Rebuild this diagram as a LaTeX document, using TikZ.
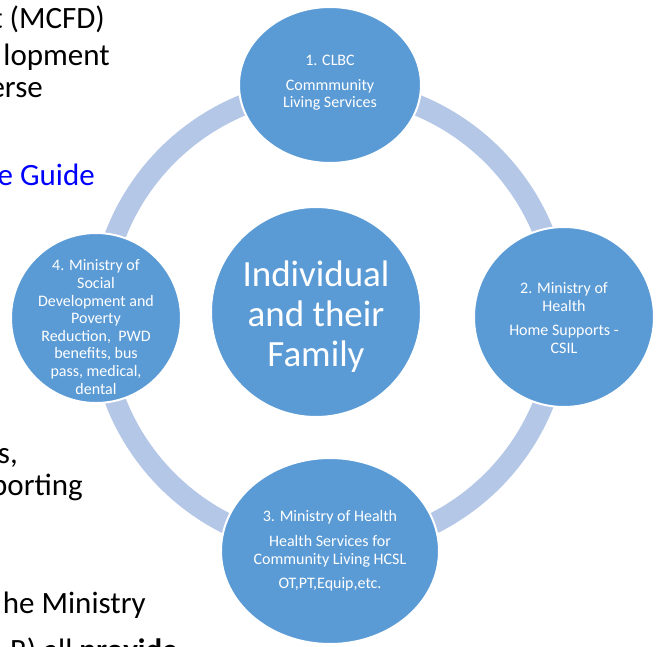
\documentclass[tikz,border=0pt]{standalone}
\usepackage{fontspec}
\setmainfont{Carlito}
\usetikzlibrary{shapes.geometric}
\definecolor{bubbleblue}{HTML}{5B9BD5}
\definecolor{ringblue}{HTML}{B4C7E7}
\definecolor{linkblue}{HTML}{0000FF}

\tikzset{
  bubble/.style={fill=bubbleblue, draw=white, line width=2pt, inner sep=0pt},
  bubbletext/.style={text=white, align=center, inner sep=0pt, font=\fontsize{16}{17.6}\selectfont},
  slidetext/.style={anchor=base east, inner sep=0pt, font=\fontsize{31}{36}\selectfont},
}

\begin{document}
\begin{tikzpicture}[x=1pt, y=-1pt]
    \useasboundingbox (0,0) rectangle (662,646);
    \clip (0,0) rectangle (662,646);

    % slide text cut off at the left edge
    \node[slidetext] (line1) at (105,28) {t (MCFD)};
    \node[slidetext] (line2) at (110,65) {lopment};
    \node[slidetext] (line3) at (43,97) {erse};
    \node[slidetext, text=linkblue] (line4) at (95,185) {e Guide};
    \node[slidetext] (line5) at (18,463) {s,};
    \node[slidetext] (line6) at (83,495) {porting};
    \node[slidetext] (line7) at (146,613) {he Ministry};
    \node[slidetext] (line8) at (178,660) {R) all \textbf{provide}};

    % the ring behind the outer bubbles
    \coordinate (hub) at (330,318);
    \pgfmathsetmacro{\R}{230}  % ring radius, units of points
    \draw[ringblue, line width=21pt] (hub) circle[radius=\R pt];

    % centre
    \node[bubble, circle, minimum size=210pt] (family) at (316,312) {};
    \node[bubbletext, font=\fontsize{37}{40}\selectfont] (family-txt) at (316,317)
        {Individual\\and their\\Family};

    % outer bubbles, clockwise from the top
    \node[bubble, ellipse, minimum width=182pt, minimum height=156pt] (clbc) at (330,85) {};
    \node[bubbletext] (clbc-txt) at (330,83)
        {1. CLBC\\[7pt]Commmunity\\Living Services};

    \node[bubble, circle, minimum size=180pt] (health) at (564,317) {};
    \node[bubbletext] (health-txt) at (564,318)
        {2. Ministry of\\Health\\[7pt]Home Supports -\\CSIL};

    \node[bubble, ellipse, minimum width=218pt, minimum height=186pt] (hcsl) at (330,551) {};
    \node[bubbletext] (hcsl-txt) at (330,551)
        {3. Ministry of Health\\[7pt]Health Services for\\Community Living HCSL\\[7pt]OT,PT,Equip,etc.};

    \node[bubble, circle, minimum size=170pt] (sdpr) at (96,318) {};
    \node[bubbletext] (sdpr-txt) at (96,327)
        {4. Ministry of\\Social\\Development and\\Poverty\\Reduction,\ \ PWD\\benefits, bus\\pass, medical,\\dental};
\end{tikzpicture}
\end{document}
